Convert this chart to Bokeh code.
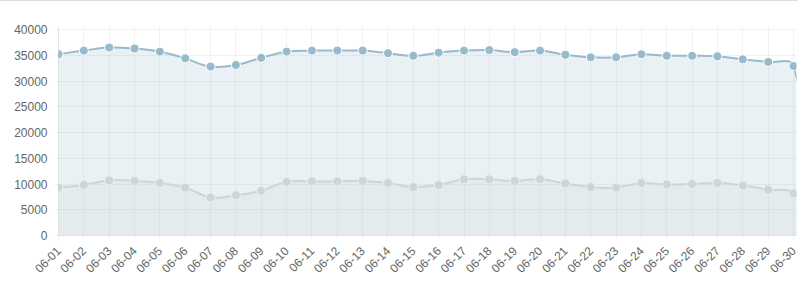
import math
from bokeh.plotting import figure
from bokeh.models import Range1d, FixedTicker
from bokeh.embed import file_html
from bokeh.resources import INLINE

days = ["06-01", "06-02", "06-03", "06-04", "06-05", "06-06", "06-07", "06-08",
        "06-09", "06-10", "06-11", "06-12", "06-13", "06-14", "06-15", "06-16",
        "06-17", "06-18", "06-19", "06-20", "06-21", "06-22", "06-23", "06-24",
        "06-25", "06-26", "06-27", "06-28", "06-29", "06-30", "07-01"]

series_blue = [35200, 35900, 36500, 36300, 35700, 34400, 32800, 33100, 34500, 35700,
               35900, 35900, 35900, 35400, 34900, 35500, 35900, 36000, 35600, 35900,
               35100, 34600, 34600, 35200, 34900, 34900, 34800, 34200, 33700, 32900, 0]

series_gray = [9300, 9800, 10700, 10600, 10200, 9300, 7400, 7800, 8700, 10400,
               10500, 10500, 10600, 10200, 9400, 9800, 10900, 10900, 10600, 10900,
               10100, 9400, 9300, 10200, 9900, 10000, 10200, 9700, 8900, 8200, 0]

y_ticks = [0, 5000, 10000, 15000, 20000, 25000, 30000, 35000, 40000]

W, H = 798, 300
LEFT, RIGHT, TOP, BOTTOM = 58, 2, 25, 66
frame_w = W - LEFT - RIGHT
frame_h = H - TOP - BOTTOM
x_end = 29 + 3 / 25.4
y_end = 40000 * frame_h / 206.0
SX = frame_w / x_end
SY = frame_h / y_end

FONT = "Liberation Sans"

p = figure(width=W, height=H, output_backend="svg", toolbar_location=None,
           x_range=Range1d(0, x_end), y_range=Range1d(0, y_end),
           min_border_left=LEFT, min_border_right=RIGHT,
           min_border_top=TOP, min_border_bottom=BOTTOM)
p.styles = {"border-top": "1px solid #dcdcdc"}
p.outline_line_color = None
p.background_fill_color = "white"
p.border_fill_color = "white"

xs = list(range(len(days)))


def controls(ys, t=0.4):
    n = len(ys)
    px = [x * SX for x in xs]
    py = [y * SY for y in ys]
    inner, outer = [], []
    for i in range(n):
        a = max(i - 1, 0)
        b = min(i + 1, n - 1)
        d01 = math.hypot(px[i] - px[a], py[i] - py[a])
        d12 = math.hypot(px[b] - px[i], py[b] - py[i])
        s = d01 + d12
        fa = t * d01 / s if s else 0
        fb = t * d12 / s if s else 0
        ix = px[i] - fa * (px[b] - px[a])
        iy = py[i] - fa * (py[b] - py[a])
        ox = px[i] + fb * (px[b] - px[a])
        oy = py[i] + fb * (py[b] - py[a])
        iy = min(max(iy, 0), y_end * SY)
        oy = min(max(oy, 0), y_end * SY)
        inner.append((ix / SX, iy / SY))
        outer.append((ox / SX, oy / SY))
    return inner, outer


def draw(ys, color, fill_alpha):
    inner, outer = controls(ys)
    n = len(ys)
    seg = dict(x0=[], y0=[], x1=[], y1=[], cx0=[], cy0=[], cx1=[], cy1=[])
    fx, fy = [], []
    for i in range(1, n):
        x0, y0 = xs[i - 1], ys[i - 1]
        x1, y1 = xs[i], ys[i]
        cx0, cy0 = outer[i - 1]
        cx1, cy1 = inner[i]
        for k, v in zip(seg.keys(), [x0, y0, x1, y1, cx0, cy0, cx1, cy1]):
            seg[k].append(v)
        for j in range(16):
            u = j / 16
            m = 1 - u
            fx.append(m**3 * x0 + 3 * m * m * u * cx0 + 3 * m * u * u * cx1 + u**3 * x1)
            fy.append(m**3 * y0 + 3 * m * m * u * cy0 + 3 * m * u * u * cy1 + u**3 * y1)
    fx.append(xs[-1]); fy.append(ys[-1])
    fx += [xs[-1], xs[0]]
    fy += [0, 0]
    p.patch(fx, fy, fill_color=color, fill_alpha=fill_alpha, line_color=None)
    p.bezier(line_color=color, line_width=2, line_cap="round", **seg)
    p.scatter(xs, ys, size=9, fill_color=color, line_color="white", line_width=1)


draw(series_gray, "#dcdcdc", 0.2)
draw(series_blue, "#97bbcd", 0.2)

p.xaxis.ticker = FixedTicker(ticks=xs)
p.xaxis.major_label_overrides = {i: d for i, d in enumerate(days)}
p.xaxis.major_label_orientation = math.pi / 4
p.yaxis.ticker = FixedTicker(ticks=y_ticks)
p.yaxis.major_label_overrides = {v: str(v) for v in y_ticks}
p.xgrid.ticker = FixedTicker(ticks=xs)
p.ygrid.ticker = FixedTicker(ticks=y_ticks)

for g in (p.xgrid, p.ygrid):
    g.grid_line_color = "black"
    g.grid_line_alpha = 0.05

for ax in (p.xaxis, p.yaxis):
    ax.axis_line_color = "black"
    ax.axis_line_alpha = 0.1
    ax.major_tick_line_color = "black"
    ax.major_tick_line_alpha = 0.05
    ax.major_tick_out = 5
    ax.major_tick_in = 0
    ax.minor_tick_line_color = None
    ax.major_label_text_font = FONT
    ax.major_label_text_font_size = "12px"
    ax.major_label_text_color = "#666666"
    ax.major_label_standoff = 6
p.xaxis.major_label_standoff = 8

html = file_html(p, INLINE)
open("out.html", "w").write(html)
